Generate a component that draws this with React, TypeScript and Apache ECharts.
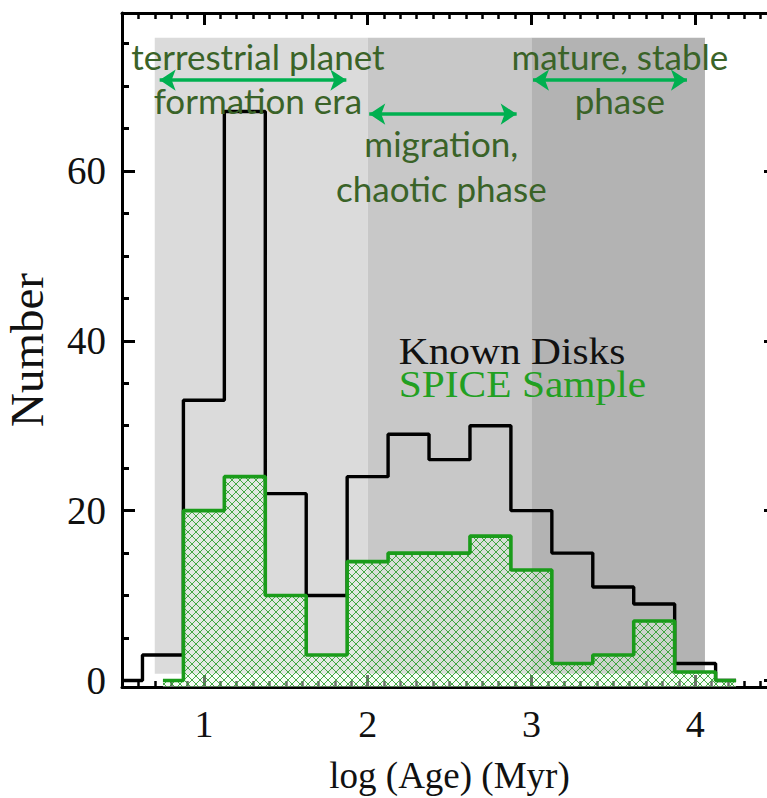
import React, { useEffect, useRef } from "react";
import * as echarts from "echarts";

// ---- data ----
const knownBinCenters = [0.5, 0.75, 1.0, 1.25, 1.5, 1.75, 2.0, 2.25, 2.5, 2.75, 3.0, 3.25, 3.5, 3.75, 4.0, 4.25];
const knownCounts = [0, 3, 33, 67, 22, 10, 24, 29, 26, 30, 20, 15, 11, 9, 2, 0];
const spiceBinCenters = [0.75, 1.0, 1.25, 1.5, 1.75, 2.0, 2.25, 2.5, 2.75, 3.0, 3.25, 3.5, 3.75, 4.0, 4.25];
const spiceCounts = [0, 20, 24, 10, 3, 14, 15, 15, 17, 13, 2, 3, 7, 1, 0];

const phaseStarts = [0.7, 2.0, 3.0];
const phaseEnds = [2.0, 3.0, 4.06];
const phaseColors = ["#dbdbdb", "#c8c8c8", "#b3b3b3"];
const phaseBottom = 0.8;
const phaseTop = 75.7;

const xMajorTicks = [1, 2, 3, 4];
const xMinorTicks = [
  0.6, 0.7, 0.8, 0.9, 1.1, 1.2, 1.3, 1.4, 1.5, 1.6, 1.7, 1.8, 1.9,
  2.1, 2.2, 2.3, 2.4, 2.5, 2.6, 2.7, 2.8, 2.9, 3.1, 3.2, 3.3, 3.4, 3.5, 3.6, 3.7, 3.8, 3.9,
  4.1, 4.2, 4.3, 4.4,
];
const yMajorTicks = [0, 20, 40, 60];
const yMinorTicks = [5, 10, 15, 25, 30, 35, 45, 50, 55, 65, 70, 75];

// annotation arrows: [xStart, xEnd, y] in data units
const arrowStarts = [0.73, 2.01, 3.01];
const arrowEnds = [1.87, 2.91, 3.95];
const arrowLevels = [70.7, 66.7, 70.7];

// annotation texts: label, x, y (data units)
const phaseLabels = ["terrestrial planet", "formation era", "migration,", "chaotic phase", "mature, stable", "phase"];
const phaseLabelX = [1.33, 1.33, 2.45, 2.45, 3.54, 3.54];
const phaseLabelY = [73.5, 68.4, 63.3, 58.0, 73.5, 68.4];

const legendLabels = ["Known Disks", "SPICE Sample"];
const legendColors = ["#111111", "#22a022"];
const legendX = 2.19;
const legendY = [38.8, 34.9];

const X_MIN = 0.5;
const X_MAX = 4.5;
const Y_MIN = -0.77;
const Y_MAX = 78.6;

const SERIF = "'Liberation Serif', 'Times New Roman', serif";
const SANS = "Lato, 'Open Sans', sans-serif";

export default function App() {
  const ref = useRef<HTMLDivElement>(null);

  useEffect(() => {
    if (!ref.current) return;
    const chart = echarts.init(ref.current, undefined, { renderer: "svg" });

    const c = document.createElement("canvas");
    c.width = 8;
    c.height = 8;
    const ctx = c.getContext("2d");
    if (ctx) {
      ctx.fillStyle = "rgba(235,250,235,0.45)";
      ctx.fillRect(0, 0, 8, 8);
      ctx.strokeStyle = "rgba(40,155,40,0.85)";
      ctx.lineWidth = 1;
      ctx.beginPath();
      ctx.moveTo(0, 0);
      ctx.lineTo(8, 8);
      ctx.moveTo(8, 0);
      ctx.lineTo(0, 8);
      ctx.stroke();
    }
    const hatch: any = { image: c, repeat: "repeat", imageWidth: 8, imageHeight: 8 };

    const axisLineStyle = { color: "#000", width: 3 };
    const baseX = { type: "value", min: X_MIN, max: X_MAX, splitLine: { show: false } };
    const baseY = { type: "value", min: Y_MIN, max: Y_MAX, splitLine: { show: false } };

    const option: any = {
      animation: false,
      backgroundColor: "#ffffff",
      grid: { left: 122, width: 655, top: 13, bottom: 111, containLabel: false, outerBoundsMode: "none" },
      xAxis: [
        {
          ...baseX,
          position: "bottom",
          axisLine: { show: true, onZero: false, lineStyle: axisLineStyle },
          axisTick: { show: true, inside: true, length: 12, customValues: xMajorTicks, lineStyle: { color: "#000", width: 3 } },
          axisLabel: { show: true, customValues: xMajorTicks, margin: 18, color: "#111", fontFamily: SERIF, fontSize: 38 },
          name: "log (Age) (Myr)",
          nameLocation: "middle",
          nameGap: 70,
          nameTextStyle: { color: "#111", fontFamily: SERIF, fontSize: 37 },
        },
        {
          ...baseX,
          position: "bottom",
          axisLine: { show: false, onZero: false },
          axisTick: { show: true, inside: true, length: 6, customValues: xMinorTicks, lineStyle: { color: "#000", width: 2.5 } },
          axisLabel: { show: false },
        },
        {
          ...baseX,
          position: "top",
          axisLine: { show: true, onZero: false, lineStyle: axisLineStyle },
          axisTick: { show: true, inside: true, length: 12, customValues: xMajorTicks, lineStyle: { color: "#000", width: 3 } },
          axisLabel: { show: false },
        },
        {
          ...baseX,
          position: "top",
          axisLine: { show: false, onZero: false },
          axisTick: { show: true, inside: true, length: 6, customValues: xMinorTicks, lineStyle: { color: "#000", width: 2.5 } },
          axisLabel: { show: false },
        },
      ],
      yAxis: [
        {
          ...baseY,
          position: "left",
          axisLine: { show: true, onZero: false, lineStyle: axisLineStyle },
          axisTick: { show: true, inside: true, length: 13, customValues: yMajorTicks, lineStyle: { color: "#000", width: 3 } },
          axisLabel: { show: true, customValues: yMajorTicks, margin: 16, color: "#111", fontFamily: SERIF, fontSize: 39 },
          name: "Number",
          nameLocation: "middle",
          nameGap: 72,
          nameRotate: 90,
          nameTextStyle: { color: "#111", fontFamily: SERIF, fontSize: 47 },
        },
        {
          ...baseY,
          position: "left",
          axisLine: { show: false, onZero: false },
          axisTick: { show: true, inside: true, length: 7, customValues: yMinorTicks, lineStyle: { color: "#000", width: 3 } },
          axisLabel: { show: false },
        },
        {
          ...baseY,
          position: "right",
          axisLine: { show: true, onZero: false, lineStyle: axisLineStyle },
          axisTick: { show: true, inside: true, length: 13, customValues: yMajorTicks, lineStyle: { color: "#000", width: 3 } },
          axisLabel: { show: false },
        },
        {
          ...baseY,
          position: "right",
          axisLine: { show: false, onZero: false },
          axisTick: { show: true, inside: true, length: 7, customValues: yMinorTicks, lineStyle: { color: "#000", width: 3 } },
          axisLabel: { show: false },
        },
      ],
      series: [
        {
          type: "custom",
          name: "phases",
          silent: true,
          z: 1,
          xAxisIndex: 0,
          yAxisIndex: 0,
          encode: { x: [0, 1], y: [2, 3] },
          data: phaseStarts.map((s, i) => [s, phaseEnds[i], phaseBottom, phaseTop]),
          renderItem: (params: any, api: any) => {
            const p0 = api.coord([api.value(0), api.value(3)]);
            const p1 = api.coord([api.value(1), api.value(2)]);
            return {
              type: "rect",
              shape: { x: p0[0], y: p0[1], width: p1[0] - p0[0], height: p1[1] - p0[1] },
              style: { fill: phaseColors[params.dataIndex] },
            };
          },
        },
        {
          type: "line",
          name: "Known Disks",
          step: "middle",
          z: 3,
          xAxisIndex: 0,
          yAxisIndex: 0,
          showSymbol: false,
          symbol: "none",
          data: knownBinCenters.map((x, i) => [x, knownCounts[i]]),
          lineStyle: { color: "#000", width: 3.4 },
        },
        {
          type: "line",
          name: "SPICE Sample",
          step: "middle",
          z: 4,
          xAxisIndex: 0,
          yAxisIndex: 0,
          showSymbol: false,
          symbol: "none",
          data: spiceBinCenters.map((x, i) => [x, spiceCounts[i]]),
          lineStyle: { color: "#1a9c1a", width: 3.6 },
          areaStyle: { color: hatch, opacity: 1, origin: "start" },
        },
        {
          type: "lines",
          name: "phase arrows",
          coordinateSystem: "cartesian2d",
          xAxisIndex: 0,
          yAxisIndex: 0,
          z: 5,
          silent: true,
          symbol: ["arrow", "arrow"],
          symbolSize: 16,
          lineStyle: { color: "#00b050", width: 3.5, opacity: 1, curveness: 0 },
          data: arrowStarts.map((s, i) => ({ coords: [[s, arrowLevels[i]], [arrowEnds[i], arrowLevels[i]]] })),
        },
      ],
    };

    chart.setOption(option);

    const graphics: any[] = [];
    phaseLabels.forEach((t, i) => {
      const p = chart.convertToPixel({ xAxisIndex: 0, yAxisIndex: 0 }, [phaseLabelX[i], phaseLabelY[i]]) as number[];
      graphics.push({
        type: "text",
        x: p[0],
        y: p[1],
        z: 10,
        style: {
          text: t,
          fill: "#3a6328",
          font: `35px ${SANS}`,
          align: "center",
          verticalAlign: "middle",
        },
      });
    });
    legendLabels.forEach((t, i) => {
      const p = chart.convertToPixel({ xAxisIndex: 0, yAxisIndex: 0 }, [legendX, legendY[i]]) as number[];
      graphics.push({
        type: "text",
        x: p[0],
        y: p[1],
        z: 10,
        scaleX: 1.12,
        style: {
          text: t,
          fill: legendColors[i],
          font: `37px ${SERIF}`,
          lineHeight: 34,
          align: "left",
          verticalAlign: "middle",
        },
      });
    });
    chart.setOption({ graphic: graphics });

    return () => chart.dispose();
  }, []);

  return (
    <div
      ref={ref}
      style={{ position: "fixed", left: 0, top: 0, width: 767, height: 798, background: "#fff" }}
    />
  );
}
